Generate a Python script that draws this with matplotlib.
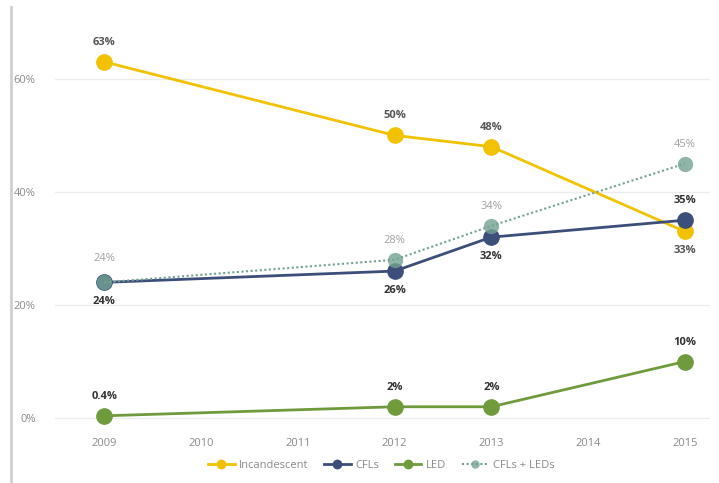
import matplotlib.pyplot as plt
from matplotlib.lines import Line2D
from matplotlib.colors import to_rgba
from matplotlib.ticker import FuncFormatter

plt.rcParams['font.family'] = ['Open Sans', 'DejaVu Sans']

annees = [2009, 2012, 2013, 2015]
incandescent = [63, 50, 48, 33]
cfl = [24, 26, 32, 35]
led = [0.4, 2, 2, 10]
cfl_led = [24, 28, 34, 45]

etiquettes_inc = ['63%', '50%', '48%', '33%']
etiquettes_cfl = ['24%', '26%', '32%', '35%']
etiquettes_led = ['0.4%', '2%', '2%', '10%']
etiquettes_cfl_led = ['24%', '28%', '34%', '45%']

c_inc = '#F2C200'
c_cfl = '#3C4F7A'
c_led = '#6F9B3C'
c_mix = '#72A391'

fig = plt.figure(figsize=(7.19, 4.83), dpi=100)
ax = fig.add_axes([0.0765, 0.111, 0.911, 0.796])

# trait gris vertical a gauche
fig.add_artist(Line2D([0.015, 0.015], [0.0, 0.985], color='#cfcfcf', lw=2,
                      transform=fig.transFigure))

ax.plot(annees, incandescent, '-o', color=c_inc, lw=2, ms=11, label='Incandescent', zorder=3)
ax.plot(annees, cfl, '-o', color=c_cfl, lw=2, ms=11, label='CFLs', zorder=4)
ax.plot(annees, cfl_led, ':o', color=c_mix, lw=1.5, ms=11, label='CFLs + LEDs', zorder=5,
        dashes=(1, 1.2), mfc=to_rgba(c_mix, 0.8), mec='none')
ax.plot(annees, led, '-o', color=c_led, lw=2, ms=11, label='LED', zorder=3)

def etiquette(x, y, txt, dy, couleur, gras=True):
    ax.annotate(txt, (x, y), xytext=(0, dy), textcoords='offset points',
                ha='center', va='center', fontsize=8, color=couleur,
                fontweight='bold' if gras else 'normal')

for i, x in enumerate(annees):
    # incandescent au-dessus sauf le dernier
    etiquette(x, incandescent[i], etiquettes_inc[i], -14 if i == 3 else 14, '#555555')
    etiquette(x, cfl[i], etiquettes_cfl[i], 14 if i == 3 else -14, '#333333')
    etiquette(x, cfl_led[i], etiquettes_cfl_led[i], 17 if i == 0 else 14, '#a0a0a0', gras=False)
    etiquette(x, led[i], etiquettes_led[i], 14, '#333333')

ax.set_xlim(2008.49, 2015.26)
ax.set_ylim(-2, 66)
ax.set_xticks(range(2009, 2016))
ax.set_yticks([0, 20, 40, 60])
ax.yaxis.set_major_formatter(FuncFormatter(lambda v, p: f'{int(v)}%'))
ax.tick_params(length=0, labelsize=8, labelcolor='#8a8a8a')
ax.tick_params(axis='y', pad=14)
ax.tick_params(axis='x', pad=6)
ax.grid(axis='y', color='#ececec', lw=1)
ax.set_axisbelow(True)
for s in ax.spines.values():
    s.set_visible(False)

poignees, noms = ax.get_legend_handles_labels()
ordre = [0, 1, 3, 2]
leg = fig.legend([poignees[i] for i in ordre], [noms[i] for i in ordre],
                 loc='center', bbox_to_anchor=(0.53, 0.037), ncol=4, frameon=False,
                 fontsize=8, markerscale=0.55, handlelength=2.4, columnspacing=1.4,
                 handletextpad=0.4)
for t in leg.get_texts():
    t.set_color('#8a8a8a')

fig.savefig('out.png', dpi=100, facecolor='white')
